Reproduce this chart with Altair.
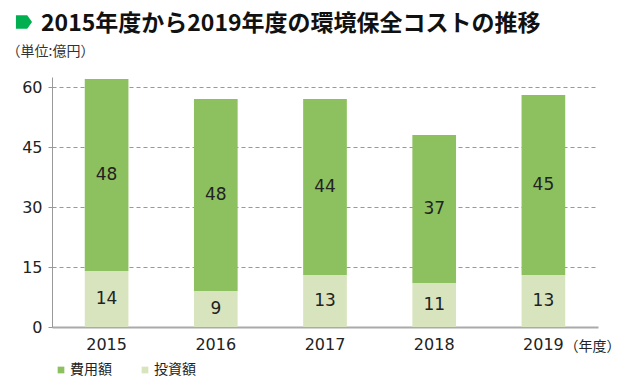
import altair as alt
import pandas as pd

years = ["2015", "2016", "2017", "2018", "2019"]
invest = [14, 9, 13, 11, 13]
expense = [48, 48, 44, 37, 45]
series = ["費用額", "投資額"]
colors = ["#8DC05F", "#D8E4BE"]
y_ticks = [0, 15, 30, 45, 60]

rows = []
for i, yr in enumerate(years):
    rows.append({"year": yr, "type": "投資額", "value": invest[i], "ord": 0,
                 "mid": invest[i] / 2})
    rows.append({"year": yr, "type": "費用額", "value": expense[i], "ord": 1,
                 "mid": invest[i] + expense[i] / 2})
df = pd.DataFrame(rows)

JP = "Noto Sans CJK JP"
NUM = "DejaVu Sans"

x = alt.X("year:N", sort=years,
          scale=alt.Scale(paddingInner=0.6, paddingOuter=0.3),
          axis=alt.Axis(title="（年度）", titleX=512, titleY=19, titleAlign="left",
                        titleBaseline="middle", titleFont=JP, titleFontSize=14,
                        titleFontWeight="normal", titleColor="#222",
                        labelAngle=0, ticks=False, labelFont=NUM, labelFontSize=16,
                        labelColor="#222", labelPadding=9, domainColor="#aaa",
                        domainWidth=2))

bars = alt.Chart(df).mark_bar().encode(
    x=x,
    y=alt.Y("value:Q", stack="zero",
            scale=alt.Scale(domain=[0, 62.5], nice=False),
            axis=alt.Axis(title="（単位:億円）", titleAngle=0, titleX=-46, titleY=-26,
                          titleAlign="left", titleBaseline="middle", titleFont=JP,
                          titleFontSize=14, titleFontWeight="normal", titleColor="#333",
                          values=y_ticks, tickSize=4, tickColor="#999",
                          domainColor="#999", gridColor="#999", gridDash=[4, 3],
                          labelFont=NUM, labelFontSize=16, labelColor="#222",
                          labelPadding=6)),
    color=alt.Color("type:N", scale=alt.Scale(domain=series, range=colors),
                    legend=alt.Legend(title=None, orient="none", legendX=2, legendY=286,
                                      direction="horizontal", symbolType="square",
                                      symbolSize=45, symbolStrokeWidth=0,
                                      labelFont=JP, labelFontSize=14,
                                      labelColor="#222", columnPadding=26,
                                      symbolOffset=0, labelOffset=2)),
    order=alt.Order("ord:Q"),
)

labels = alt.Chart(df).mark_text(font=NUM, fontSize=17, color="#222").encode(
    x=alt.X("year:N", sort=years),
    y=alt.Y("mid:Q"),
    text=alt.Text("value:Q"),
)

ann = pd.DataFrame({"t": ["x"]})
title_marker = alt.Chart(ann).mark_point(
    shape="M-1,-0.85L0.4,-0.85L1,0L0.4,0.85L-1,0.85Z", filled=True, color="#00B050",
    size=260, opacity=1).encode(x=alt.value(-28), y=alt.value(-55))
title_text = alt.Chart(ann).mark_text(
    text="2015年度から2019年度の環境保全コストの推移", font=JP, fontSize=23,
    fontWeight="bold", color="#111", align="left", baseline="middle").encode(
    x=alt.value(-11), y=alt.value(-53))

chart = alt.layer(bars, labels, title_marker, title_text).properties(
    width=546, height=250,
    padding={"left": 44, "top": 69, "right": 24, "bottom": 55},
    autosize=alt.AutoSizeParams(type="none"),
).configure_view(stroke=None)

chart.save("out.html", embed_options={"renderer": "svg", "actions": False})
